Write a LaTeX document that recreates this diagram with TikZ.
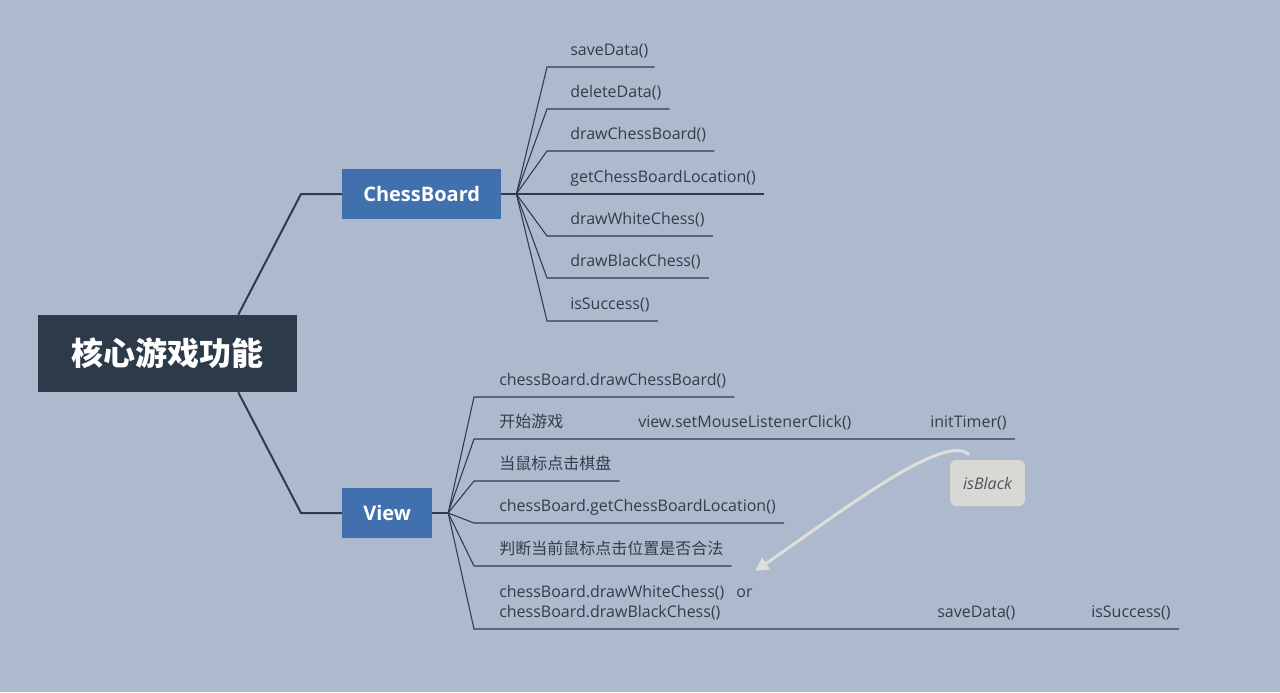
\documentclass[tikz,border=0pt]{standalone}
\usepackage{fontspec}
\setmainfont{Open Sans}
\newfontfamily\cjk{Noto Sans CJK SC}
\usepackage{tikz}
\usetikzlibrary{arrows.meta, positioning, calc}
\definecolor{paper}{RGB}{173,186,205}
\definecolor{rootdark}{RGB}{45,58,74}
\definecolor{nodeblue}{RGB}{64,112,173}
\definecolor{inkline}{RGB}{47,59,75}
\definecolor{leafink}{RGB}{52,60,72}
\definecolor{notegray}{RGB}{216,217,212}
\definecolor{notetext}{RGB}{80,84,90}
\definecolor{cuegray}{RGB}{222,223,218}

\begin{document}
\begin{tikzpicture}[x=0.75pt, y=-0.75pt,
  root/.style={fill=rootdark, text=white, minimum width=194.25pt, minimum height=57.75pt, font=\fontsize{24}{29}\selectfont},
  topic/.style={fill=nodeblue, text=white, anchor=west, minimum height=37.5pt, inner xsep=15.75pt, font=\bfseries\fontsize{15}{18}\selectfont},
  leaf/.style={anchor=south west, inner xsep=0pt, inner ysep=5.25pt, text depth=3pt, text=leafink, font=\fontsize{12}{15}\selectfont},
  note/.style={fill=notegray, rounded corners=4.5pt, minimum height=34.5pt, inner xsep=9.75pt, text=notetext, font=\itshape\fontsize{12}{15}\selectfont},
  branch/.style={draw=inkline, line width=1.5pt},
  twig/.style={draw=inkline, line width=0.8pt},
  cue/.style={draw=cuegray, line width=2.25pt, -{Triangle[length=10pt,width=10pt]}}]
  \fill[paper] (0,0) rectangle (1280,692);

  \node[root] (core) at (167.5,353.5) {\cjk\bfseries 核心游戏功能};
  \node[topic] (cb) at (342,194) {ChessBoard};
  \node[topic] (vw) at (342,513) {View};
  \draw[branch] ([xshift=-44.25pt]core.north east) -- ([xshift=-30.75pt]cb.west) -- (cb.west);
  \draw[branch] ([xshift=-44.25pt]core.south east) -- ([xshift=-30.75pt]vw.west) -- (vw.west);

  \coordinate (jc) at ([xshift=11.25pt]cb.east);
  \coordinate (jv) at ([xshift=12pt]vw.east);
  \draw[twig] (cb.east) -- (jc);
  \draw[twig] (vw.east) -- (jv);

  \node[leaf] (save) at (570,67) {saveData()};
  \node[leaf] (delete) at (570,109) {deleteData()};
  \node[leaf] (board) at (570,151) {drawChessBoard()};
  \node[leaf] (locate) at (570,194) {getChessBoardLocation()};
  \node[leaf] (white) at (570,236) {drawWhiteChess()};
  \node[leaf] (black) at (570,278) {drawBlackChess()};
  \node[leaf] (success) at (570,321) {isSuccess()};
  \draw[twig] (jc) -- ([xshift=-17.25pt]save.south west) -- ([xshift=4.5pt]save.south east);
  \draw[twig] (jc) -- ([xshift=-17.25pt]delete.south west) -- ([xshift=6pt]delete.south east);
  \draw[twig] (jc) -- ([xshift=-17.25pt]board.south west) -- ([xshift=6pt]board.south east);
  \draw[twig] (jc) -- ([xshift=-17.25pt]locate.south west) -- ([xshift=6pt]locate.south east);
  \draw[twig] (jc) -- ([xshift=-17.25pt]white.south west) -- ([xshift=6pt]white.south east);
  \draw[twig] (jc) -- ([xshift=-17.25pt]black.south west) -- ([xshift=6pt]black.south east);
  \draw[twig] (jc) -- ([xshift=-17.25pt]success.south west) -- ([xshift=6pt]success.south east);

  \node[leaf] (show) at (499,397) {chessBoard.drawChessBoard()};
  \node[leaf] (start) at (499,439) {\cjk 开始游戏};
  \node[leaf] (listen) at (638,439) {view.setMouseListenerClick()};
  \node[leaf] (timer) at (930,439) {initTimer()};
  \node[leaf] (click) at (499,481) {\cjk 当鼠标点击棋盘};
  \node[leaf] (where) at (499,523) {chessBoard.getChessBoardLocation()};
  \node[leaf] (legal) at (499,566) {\cjk 判断当前鼠标点击位置是否合法};
  \node[leaf, align=left] (put) at (499,629) {chessBoard.drawWhiteChess()\hspace{9pt}or\\chessBoard.drawBlackChess()};
  \node[leaf] (store) at (937,629) {saveData()};
  \node[leaf] (win) at (1091,629) {isSuccess()};
  \draw[twig] (jv) -- ([xshift=-18.75pt]show.south west) -- ([xshift=6pt]show.south east);
  \draw[twig] (jv) -- ([xshift=-18.75pt]start.south west) -- (start.south east) -- (listen.south west)
    -- (listen.south east) -- (timer.south west) -- ([xshift=6pt]timer.south east);
  \draw[twig] (jv) -- ([xshift=-18.75pt]click.south west) -- ([xshift=6pt]click.south east);
  \draw[twig] (jv) -- ([xshift=-18.75pt]where.south west) -- ([xshift=6pt]where.south east);
  \draw[twig] (jv) -- ([xshift=-18.75pt]legal.south west) -- ([xshift=6pt]legal.south east);
  \draw[twig] (jv) -- ([xshift=-18.75pt]put.south west) -- (store.south west) -- (store.south east)
    -- (win.south west) -- ([xshift=6pt]win.south east);

  \node[note] (isb) at (987.5,483) {isBlack};
  \coordinate (drop) at (755,571);
  \draw[cue] ([xshift=-13.9pt,yshift=3.75pt]isb.north) .. controls (945,430) and (830,520) .. (drop);
\end{tikzpicture}
\end{document}
